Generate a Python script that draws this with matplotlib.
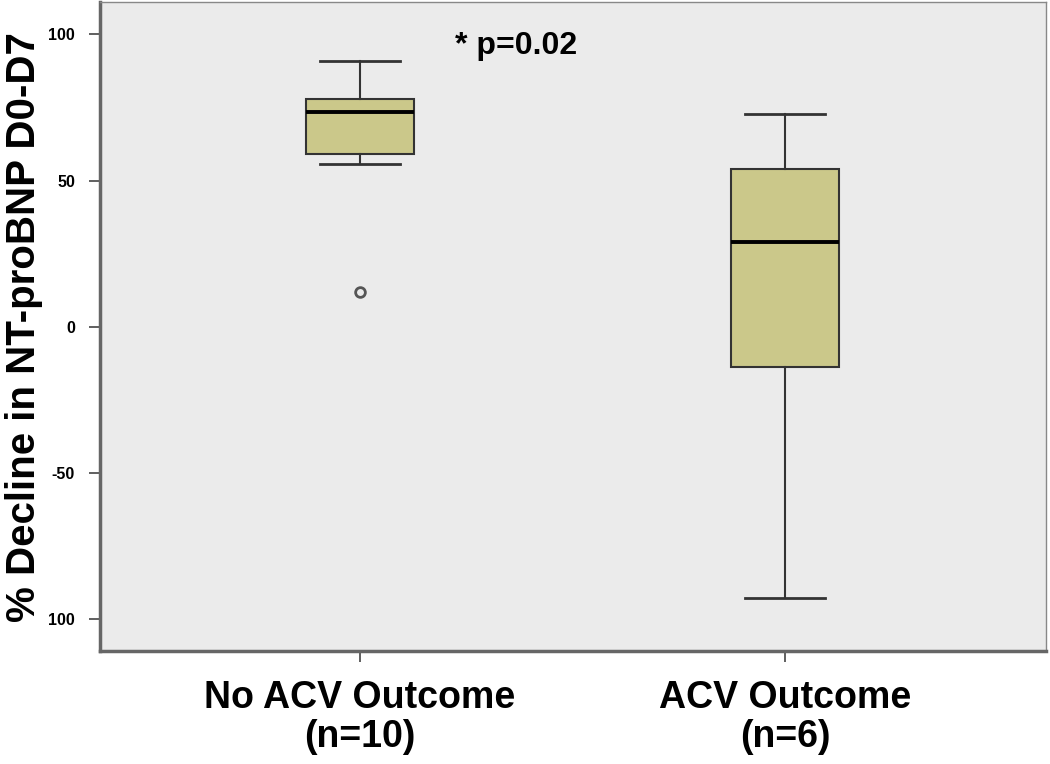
import matplotlib.pyplot as plt

plt.rcParams['font.family'] = ['Liberation Sans', 'DejaVu Sans']

# значення
groups = ['No ACV Outcome\n(n=10)', 'ACV Outcome\n(n=6)']
whis_low = [55.8, -92.8]
q1 = [59.2, -13.7]
median = [73.3, 28.8]
q3 = [78.0, 54.1]
whis_high = [90.8, 72.6]
outliers = [[12.0], []]

yticks = [100, 50, 0, -50, -100]
ytick_labels = ['100', '50', '0', '-50', '100']

stats = []
for i in range(len(groups)):
    stats.append({'whislo': whis_low[i], 'q1': q1[i], 'med': median[i],
                  'q3': q3[i], 'whishi': whis_high[i], 'fliers': outliers[i]})

fig = plt.figure(figsize=(10.5, 7.64), dpi=100)
ax = fig.add_axes([0.0952, 0.148, 0.901, 0.849])
ax.set_facecolor('#ebebeb')

ax.bxp(stats, positions=[1, 2], widths=0.254, patch_artist=True,
       boxprops=dict(facecolor='#cbc88a', edgecolor='#333333', linewidth=1.5),
       medianprops=dict(color='black', linewidth=2.8),
       whiskerprops=dict(color='#333333', linewidth=1.5),
       capprops=dict(color='#333333', linewidth=2),
       capwidths=0.19,
       flierprops=dict(marker='o', markerfacecolor='none', markeredgecolor='#555555',
                       markersize=7, markeredgewidth=2))

ax.set_xlim(0.388, 2.614)
ax.set_ylim(-111, 111)
ax.set_yticks(yticks)
ax.set_yticklabels(ytick_labels, fontsize=11.5, fontweight='bold')
ax.set_xticks([1, 2])
ax.set_xticklabels(groups, fontsize=27, fontweight='bold', linespacing=1.12)
ax.tick_params(axis='y', length=8, width=1.2, color='#444444', pad=10)
ax.tick_params(axis='x', length=8, width=1.2, color='#444444', pad=13)

for s in ['left', 'bottom']:
    ax.spines[s].set_color('#666666')
    ax.spines[s].set_linewidth(2.5)
for s in ['top', 'right']:
    ax.spines[s].set_color('#888888')
    ax.spines[s].set_linewidth(1)

ax.set_ylabel('% Decline in NT-proBNP D0-D7', fontsize=29, fontweight='bold', labelpad=4)
ax.text(1.224, 96, '* p=0.02', fontsize=23, fontweight='bold', va='center')

plt.savefig('out.png', dpi=100)
